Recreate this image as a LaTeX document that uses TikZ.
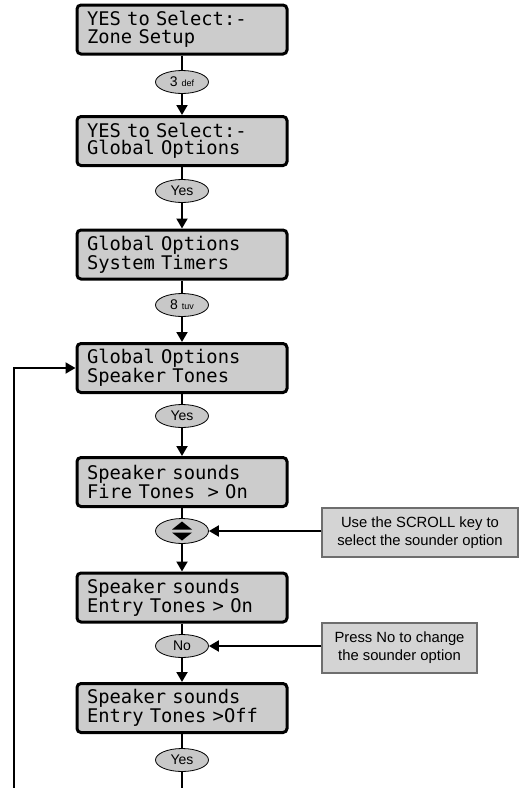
\documentclass[tikz,border=0pt]{standalone}
\usepackage{fontspec}
\setmainfont{Liberation Sans}
\newfontfamily\lcdfont{DejaVu Sans Mono}
\usetikzlibrary{arrows.meta}
\definecolor{lcdgray}{RGB}{204,204,204}
\definecolor{ovalgray}{RGB}{200,200,200}
\definecolor{notegray}{RGB}{212,212,212}
\definecolor{noteedge}{RGB}{110,110,110}
\tikzset{
  lcd/.style={draw=black, line width=3pt, rounded corners=4pt, fill=lcdgray,
    minimum width=210pt, minimum height=49pt, text width=190pt, inner xsep=10pt, inner ysep=0pt,
    align=left, font=\lcdfont\fontsize{18.8}{17.5}\selectfont},
  keyoval/.style={ellipse, draw=black, line width=0.8pt, fill=ovalgray,
    minimum width=53pt, minimum height=23pt, inner sep=0pt, font=\fontsize{14}{16}\selectfont},
  note/.style={draw=noteedge, line width=1.3pt, fill=notegray, inner sep=0pt,
    align=center, font=\fontsize{14.8}{18}\selectfont},
  link/.style={line width=2pt, draw=black},
  arr/.style={line width=2pt, draw=black, -{Triangle[length=10pt,width=11pt]}},
}
\usetikzlibrary{shapes.geometric}
\begin{document}
\begin{tikzpicture}[x=1pt,y=-1pt]
\useasboundingbox (0,0) rectangle (520,788);
% LCD screens
\node[lcd] (b1) at (182,29.5) {YES to Select:-\\Zone Setup};
\node[lcd] (b2) at (182,141) {YES to Select:-\\Global Options};
\node[lcd] (b3) at (182,254.5) {Global Options\\System Timers};
\node[lcd] (b4) at (182,368) {Global Options\\Speaker Tones};
\node[lcd] (b5) at (182,482) {Speaker sounds\\Fire Tones\ \ > On};
\node[lcd] (b6) at (182,597.5) {Speaker sounds\\Entry Tones > On};
\node[lcd] (b7) at (182,708) {Speaker sounds\\Entry Tones >Off};
% keys
\node[keyoval] (o1) at (182,82) {3 {\fontsize{9}{10}\selectfont def}};
\node[keyoval] (o2) at (182,191) {Yes};
\node[keyoval] (o3) at (182,305) {8 {\fontsize{9}{10}\selectfont tuv}};
\node[keyoval] (o4) at (182,416) {Yes};
\node[keyoval, minimum height=25pt] (o5) at (182,531) {};
\node[keyoval] (o6) at (182,646) {No};
\node[keyoval] (o7) at (182,760) {Yes};
% scroll symbol
\fill[black] ([shift={(-10,-1.5)}]o5.center) -- ([shift={(10,-1.5)}]o5.center) -- ([shift={(0,-9.5)}]o5.center) -- cycle;
\fill[black] ([shift={(-10,1.5)}]o5.center) -- ([shift={(10,1.5)}]o5.center) -- ([shift={(0,9.5)}]o5.center) -- cycle;
% notes
\node[note, minimum width=196pt, minimum height=49pt] (n1) at (420,532.5) {Use the SCROLL key to\\select the sounder option};
\node[note, minimum width=155pt, minimum height=50pt] (n2) at (399.5,648) {Press No to change\\the sounder option};
% connectors
\draw[link] (b1) -- (o1);
\draw[arr] (o1) -- (b2);
\draw[link] (b2) -- (o2);
\draw[arr] (o2) -- (b3);
\draw[link] (b3) -- (o3);
\draw[arr] (o3) -- (b4);
\draw[link] (b4) -- (o4);
\draw[arr] (o4) -- (b5);
\draw[link] (b5) -- (o5);
\draw[arr] (o5) -- (b6);
\draw[link] (b6) -- (o6);
\draw[arr] (o6) -- (b7);
\draw[link] (b7) -- (o7);
\coordinate (endA) at (182,788);
\coordinate (endB) at (14,788);
\draw[link] (o7) -- (endA);
\draw[arr] (endB) |- (b4.west);
\draw[arr] (n1.west |- o5.east) -- (o5.east);
\draw[arr] (n2.west |- o6.east) -- (o6.east);
\end{tikzpicture}
\end{document}
